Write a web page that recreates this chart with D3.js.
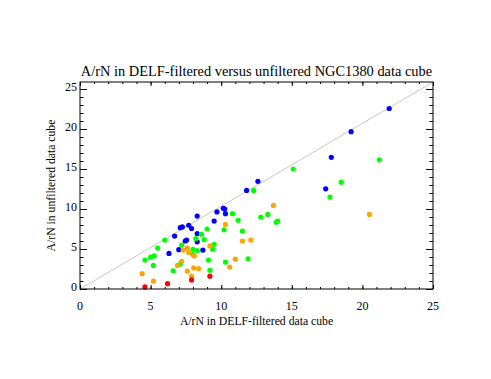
<!DOCTYPE html>
<head>
    <meta charset="utf-8">
    <script src="https://d3js.org/d3.v7.min.js"></script>
    <style>
        body { margin: 0; background: white; }
        text { font-family: "Liberation Serif", "DejaVu Serif", serif; fill: black; }
    </style>
</head>
<body>
<script>

    // A/rN values: [filtered, unfiltered]
    var blue = [[8.3,9.11],[7.25,7.76],[7.1,7.66],[7.7,7.97],[7.9,7.56],[6.7,6.62],[8.3,6.93],[7.55,6.11],[7.45,6.0],
        [8.3,5.9],[7.0,4.92],[6.3,4.45],[12.6,13.46],[11.8,12.32],[10.15,10.09],[10.25,9.99],[9.7,9.63],[10.3,9.42],
        [9.5,8.49],[8.7,4.86],[21.9,22.56],[19.2,19.67],[17.8,16.46],[17.4,12.52]];
    var green = [[6.0,6.11],[8.2,6.31],[5.5,5.12],[7.2,5.49],[8.0,4.97],[8.3,4.81],[5.25,4.14],[5.0,3.98],[4.6,3.62],
        [8.0,4.3],[5.2,2.95],[7.1,3.11],[6.6,2.28],[12.3,12.32],[10.8,9.42],[11.2,8.59],[12.8,9.0],[13.3,9.32],
        [13.9,8.33],[14.0,8.49],[9.0,7.5],[10.2,7.4],[11.5,7.25],[8.6,6.83],[8.8,6.16],[9.5,5.59],[9.4,4.97],
        [9.1,3.62],[10.3,3.36],[11.9,3.78],[9.2,2.33],[21.2,16.15],[18.5,13.35],[17.7,11.49],[15.1,15.0]];
    var orange = [[7.3,4.86],[7.6,5.12],[7.7,4.55],[8.1,4.14],[7.2,3.47],[6.9,2.95],[8.05,2.64],[8.4,2.54],[7.6,2.23],
        [4.4,1.91],[7.9,1.6],[5.2,0.98],[13.7,10.45],[10.3,8.07],[11.5,6.0],[12.1,6.11],[9.2,5.38],[11.0,3.73],
        [10.6,2.74],[20.5,9.32]];
    var red = [[7.9,1.14],[6.2,0.67],[4.6,0.26],[9.2,1.6]];

    var majorTicks = [0, 5, 10, 15, 20, 25];
    var minorTicks = d3.range(0, 26);

    var title = "A/rN in DELF-filtered versus unfiltered NGC1380 data cube";
    var xTitle = "A/rN in DELF-filtered data cube";
    var yTitle = "A/rN in unfiltered data cube";

    var pLeft = 80, pRight = 433, pTop = 82, pBottom = 289;

    var svg = d3.select("body").append("svg")
        .attr("width", 491)
        .attr("height", 379);

    var x = d3.scaleLinear().domain([0, 25]).range([pLeft, pRight]);
    var y = d3.scaleLinear().domain([0, 25.875]).range([pBottom, pTop]);

    // corner to corner reference line
    svg.append("line")
        .attr("x1", x(0)).attr("y1", y(0))
        .attr("x2", x(25)).attr("y2", y(25.875))
        .attr("stroke", "#c8c8c8").attr("stroke-width", 1);

    function dots(data, color) {
        svg.append("g").selectAll("circle").data(data).enter().append("circle")
            .attr("cx", function(d) { return x(d[0]); })
            .attr("cy", function(d) { return y(d[1]); })
            .attr("r", 2.6)
            .attr("fill", color);
    }
    dots(blue, "#0000ff");
    dots(green, "#00ff00");
    dots(orange, "#ffa500");
    dots(red, "#ff0000");

    // IDL style box axes with inward ticks
    function axis(gen, tx, ty, len, minorLen) {
        var g = svg.append("g").attr("transform", "translate(" + tx + "," + ty + ")");
        g.call(gen.tickValues(minorTicks).tickSize(minorLen).tickFormat(""));
        var g2 = svg.append("g").attr("transform", "translate(" + tx + "," + ty + ")");
        g2.call(gen.tickValues(majorTicks).tickSize(len).tickFormat(""));
    }
    axis(d3.axisTop(x), 0, pBottom, 4, 2);
    axis(d3.axisBottom(x), 0, pTop, 4, 2);
    axis(d3.axisRight(y), pLeft, 0, 7, 3.5);
    axis(d3.axisLeft(y), pRight, 0, 7, 3.5);
    svg.selectAll(".tick line").attr("stroke", "black");
    svg.selectAll(".domain").remove();

    svg.append("rect")
        .attr("x", pLeft).attr("y", pTop)
        .attr("width", pRight - pLeft).attr("height", pBottom - pTop)
        .attr("fill", "none").attr("stroke", "black").attr("stroke-width", 1);

    svg.append("g").selectAll("text").data(majorTicks).enter().append("text")
        .attr("x", function(d) { return x(d); })
        .attr("y", pBottom + 21)
        .attr("text-anchor", "middle")
        .style("font-size", "12px")
        .text(function(d) { return d; });

    svg.append("g").selectAll("text").data(majorTicks).enter().append("text")
        .attr("x", pLeft - 3)
        .attr("y", function(d) { return y(d) + 2; })
        .attr("text-anchor", "end")
        .style("font-size", "12px")
        .text(function(d) { return d; });

    svg.append("text")
        .attr("x", (pLeft + pRight) / 2).attr("y", 76)
        .attr("text-anchor", "middle")
        .style("font-size", "14.4px")
        .text(title);

    svg.append("text")
        .attr("x", (pLeft + pRight) / 2).attr("y", 325)
        .attr("text-anchor", "middle")
        .style("font-size", "11.7px")
        .text(xTitle);

    svg.append("text")
        .attr("transform", "translate(55," + ((pTop + pBottom) / 2) + ") rotate(-90)")
        .attr("text-anchor", "middle")
        .style("font-size", "11.7px")
        .text(yTitle);

</script>
</body>
